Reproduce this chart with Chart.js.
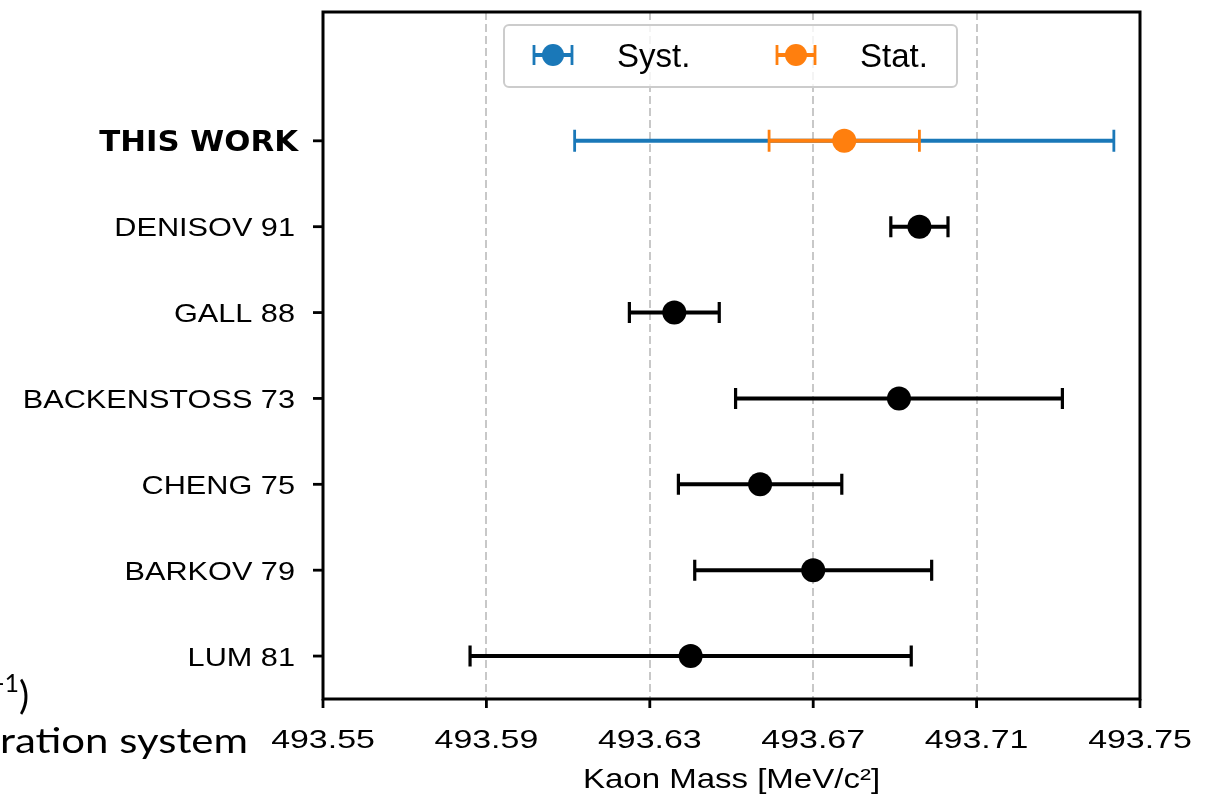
<!DOCTYPE html>
<html>
<head>
<meta charset="utf-8">
<script src="https://cdn.jsdelivr.net/npm/chart.js@4.4.1/dist/chart.umd.min.js"></script>
<style>
  html, body { margin: 0; padding: 0; background: #fff; }
  #wrap { width: 1207px; height: 806px; }
</style>
</head>
<body>
<div id="wrap"><canvas id="massChart" width="1207" height="806"></canvas></div>
<script>
// Linhas do gráfico, de baixo (0) para cima (6)
const rowLabels = ['LUM 81', 'BARKOV 79', 'CHENG 75', 'BACKENSTOSS 73', 'GALL 88', 'DENISOV 91', 'THIS WORK'];
// Medições anteriores (linhas 0..5)
const refMass = [493.640, 493.670, 493.657, 493.691, 493.636, 493.696];
const refErr = [0.054, 0.029, 0.020, 0.040, 0.011, 0.007];
// Este trabalho
const thisMass = [493.6776];
const thisStat = [0.0184];
const thisSyst = [0.066];
const xTicks = [493.55, 493.59, 493.63, 493.67, 493.71, 493.75];
const legendLabels = ['Syst.', 'Stat.'];

const BLUE = '#1a78b8';
const ORANGE = '#ff7f0e';
const SANS = '"Liberation Sans", Arial, sans-serif';

// texto esticado na horizontal (a figura original tem fontes largas)
function drawText(ctx, text, x, y, font, sx, align) {
    ctx.save();
    ctx.font = font;
    ctx.fillStyle = '#000';
    ctx.textAlign = align;
    ctx.textBaseline = 'alphabetic';
    ctx.translate(x, y);
    ctx.scale(sx, 1);
    ctx.fillText(text, 0, 0);
    ctx.restore();
}

function drawErrorBar(ctx, x1, x2, y, color, width, capHalf, capWidth) {
    ctx.save();
    ctx.strokeStyle = color;
    ctx.lineWidth = width;
    ctx.beginPath();
    ctx.moveTo(x1, y);
    ctx.lineTo(x2, y);
    ctx.stroke();
    ctx.lineWidth = capWidth;
    ctx.beginPath();
    ctx.moveTo(x1, y - capHalf);
    ctx.lineTo(x1, y + capHalf);
    ctx.moveTo(x2, y - capHalf);
    ctx.lineTo(x2, y + capHalf);
    ctx.stroke();
    ctx.restore();
}

const errorBarsPlugin = {
    id: 'errorBars',
    beforeDatasetsDraw(chart) {
        const ctx = chart.ctx;
        const xs = chart.scales.x, ys = chart.scales.y;
        refMass.forEach((m, i) => {
            drawErrorBar(ctx, xs.getPixelForValue(m - refErr[i]), xs.getPixelForValue(m + refErr[i]),
                ys.getPixelForValue(i), '#000', 4, 10.5, 3.2);
        });
        const yt = ys.getPixelForValue(6);
        drawErrorBar(ctx, xs.getPixelForValue(thisMass[0] - thisSyst[0]), xs.getPixelForValue(thisMass[0] + thisSyst[0]),
            yt, BLUE, 4, 11, 2.8);
        drawErrorBar(ctx, xs.getPixelForValue(thisMass[0] - thisStat[0]), xs.getPixelForValue(thisMass[0] + thisStat[0]),
            yt, ORANGE, 4, 11, 2.8);
    },
    afterDraw(chart) {
        const ctx = chart.ctx;
        const a = chart.chartArea;
        const xs = chart.scales.x, ys = chart.scales.y;

        // moldura
        ctx.save();
        ctx.strokeStyle = '#000';
        ctx.lineWidth = 3;
        ctx.strokeRect(a.left, a.top, a.right - a.left, a.bottom - a.top);

        // marcas do eixo x
        ctx.lineWidth = 2.8;
        xs.ticks.forEach(t => {
            const x = xs.getPixelForValue(t.value);
            ctx.beginPath();
            ctx.moveTo(x, a.bottom);
            ctx.lineTo(x, a.bottom + 9);
            ctx.stroke();
            drawText(ctx, t.value.toFixed(2), x, 748, '26.5px ' + SANS, 1.28, 'center');
        });

        // marcas do eixo y
        ys.ticks.forEach(t => {
            const y = ys.getPixelForValue(t.value);
            ctx.beginPath();
            ctx.moveTo(a.left - 10, y);
            ctx.lineTo(a.left, y);
            ctx.stroke();
            const label = rowLabels[t.value];
            if (label === 'THIS WORK') {
                drawText(ctx, label, a.left - 25, y + 10.5, 'bold 28.5px "DejaVu Sans", sans-serif', 1.08, 'right');
            } else {
                drawText(ctx, label, a.left - 28, y + 9.5, '26px ' + SANS, 1.18, 'right');
            }
        });

        // título do eixo x
        drawText(ctx, 'Kaon Mass [MeV/c\u00B2]', (a.left + a.right) / 2, 788, '27.5px ' + SANS, 1.2, 'center');

        // legenda
        ctx.fillStyle = 'rgba(255,255,255,0.8)';
        ctx.strokeStyle = '#cccccc';
        ctx.lineWidth = 2;
        ctx.beginPath();
        ctx.roundRect(504, 25, 453, 62, 5);
        ctx.fill();
        ctx.stroke();
        const legendColors = [BLUE, ORANGE];
        const legendX = [553, 796];
        legendLabels.forEach((lab, i) => {
            const cx = legendX[i];
            drawErrorBar(ctx, cx - 19, cx + 19, 55, legendColors[i], 4, 10, 2.8);
            ctx.fillStyle = legendColors[i];
            ctx.beginPath();
            ctx.arc(cx, 55, 11, 0, Math.PI * 2);
            ctx.fill();
            drawText(ctx, lab, cx + 64, 67, '33px ' + SANS, 1, 'left');
        });

        // restos do slide por trás (cortados à esquerda)
        ctx.fillStyle = '#000';
        ctx.font = '25px Lato, sans-serif';
        ctx.textAlign = 'right';
        ctx.fillText('-1', 19, 692);
        ctx.font = '38px Lato, sans-serif';
        ctx.textAlign = 'left';
        ctx.fillText(')', 19, 709);
        const txt = 'ration system';
        ctx.font = '35px Lato, sans-serif';
        const w = ctx.measureText(txt).width;
        ctx.translate(0, 753);
        ctx.scale(248 / w, 1);
        ctx.fillText(txt, 0, 0);
        ctx.restore();
    }
};

const ctx = document.getElementById('massChart');
new Chart(ctx, {
    type: 'scatter',
    data: {
        datasets: [
            {
                label: 'References',
                data: refMass.map((m, i) => ({ x: m, y: i })),
                backgroundColor: '#000',
                borderWidth: 0,
                pointRadius: 12
            },
            {
                label: 'This work',
                data: thisMass.map(m => ({ x: m, y: 6 })),
                backgroundColor: ORANGE,
                borderWidth: 0,
                pointRadius: 12
            }
        ]
    },
    options: {
        responsive: false,
        animation: false,
        events: [],
        layout: { padding: { top: 8, right: 67, left: 0, bottom: 0 } },
        plugins: {
            legend: { display: false },
            tooltip: { enabled: false }
        },
        scales: {
            x: {
                type: 'linear',
                min: 493.55,
                max: 493.75,
                afterBuildTicks: s => { s.ticks = xTicks.map(v => ({ value: v })); },
                afterFit: s => { s.height = 107; },
                ticks: { display: false },
                grid: { color: '#c8c8c8', lineWidth: 2, drawTicks: false },
                border: { display: false, dash: [8, 4] }
            },
            y: {
                type: 'linear',
                min: -0.5,
                max: 7.5,
                afterBuildTicks: s => { s.ticks = rowLabels.map((l, i) => ({ value: i })); },
                afterFit: s => { s.width = 323; },
                ticks: { display: false },
                grid: { display: false },
                border: { display: false }
            }
        }
    },
    plugins: [errorBarsPlugin]
});
</script>
</body>
</html>
